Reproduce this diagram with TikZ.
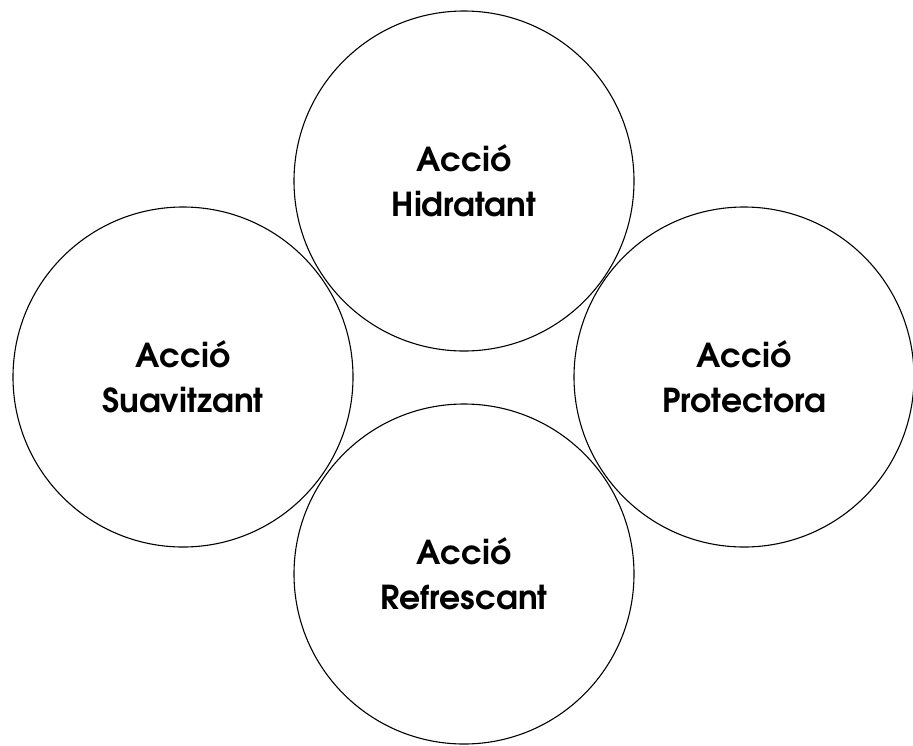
\documentclass[tikz,border=0pt]{standalone}
\usepackage{fontspec}
\setmainfont{texgyreadventor}[Extension=.otf, UprightFont=*-regular, BoldFont=*-bold, ItalicFont=*-italic, BoldItalicFont=*-bolditalic]
\begin{document}
\begin{tikzpicture}[x=1pt,y=-1pt,
  circ/.style={circle, draw, line width=1.1pt, minimum size=340pt, inner sep=0pt,
    font=\fontsize{33}{45}\selectfont\bfseries, align=center}]
\useasboundingbox (0,0) rectangle (913,745);
\node[circ] (top) at (464,181) {Acci\'o\\Hidratant};
\node[circ] (left) at (183,377) {Acci\'o\\Suavitzant};
\node[circ] (right) at (744,377) {Acci\'o\\Protectora};
\node[circ] (bottom) at (464,574) {Acci\'o\\Refrescant};
\end{tikzpicture}
\end{document}
